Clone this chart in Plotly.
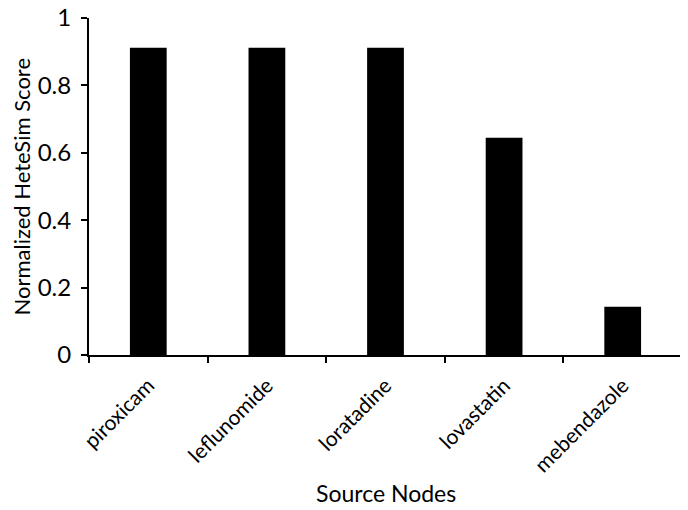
import plotly.graph_objects as go

drugs = ["piroxicam", "leflunomide", "loratadine", "lovastatin", "mebendazole"]
scores = [0.912, 0.912, 0.912, 0.645, 0.143]

fig = go.Figure()
fig.add_trace(go.Bar(x=drugs, y=scores, marker_color="black", marker_line_width=0))

fig.update_layout(
    width=688, height=510,
    margin=dict(l=81, r=14, t=10, b=163),
    plot_bgcolor="white", paper_bgcolor="white",
    font=dict(family="Lato, 'Open Sans', sans-serif", color="black", size=18),
    bargap=0.69,
    showlegend=False,
)
fig.update_xaxes(
    type="category", range=[-0.5, 4.5], automargin=False,
    showline=True, linecolor="black", linewidth=2,
    ticks="outside", tickson="boundaries", ticklen=6, tickwidth=2, tickcolor="black",
    tickangle=-45, tickfont=dict(size=21), ticklabelstandoff=8,
    ticklabeloverflow="allow",
    showgrid=False,
)
fig.update_yaxes(
    range=[0, 1], dtick=0.2, tickformat="~g", automargin=False,
    showline=True, linecolor="black", linewidth=2,
    ticks="outside", ticklen=6, tickwidth=2, tickcolor="black",
    tickfont=dict(size=24), ticklabelstandoff=5,
    ticklabeloverflow="allow",
    showgrid=False, zeroline=False,
)
# axis titles
fig.add_annotation(text="Source Nodes", xref="paper", yref="paper", x=0.5, y=-0.41,
                   xanchor="center", yanchor="middle", showarrow=False, font=dict(size=23))
fig.add_annotation(text="Normalized HeteSim Score", xref="paper", yref="paper", x=-0.113, y=0.5,
                   xanchor="center", yanchor="middle", textangle=-90, showarrow=False, font=dict(size=22))

fig.write_html("out.html")
